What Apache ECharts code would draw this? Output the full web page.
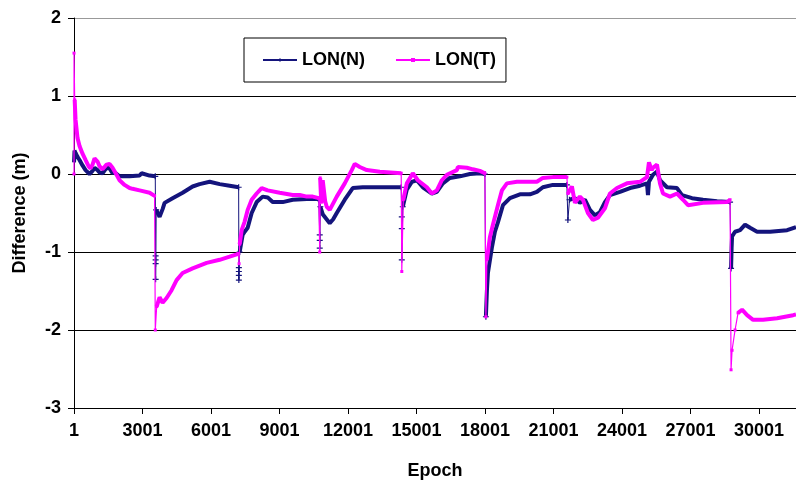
<!DOCTYPE html>
<html>
<head>
<meta charset="utf-8">
<title>LON difference by epoch</title>
<script src="https://cdn.jsdelivr.net/npm/echarts@6/dist/echarts.min.js"></script>
<style>
  html, body { margin: 0; padding: 0; background: #ffffff; }
  #chart { width: 796px; height: 485px; }
</style>
</head>
<body>
<div id="chart"></div>
<script>
// Longitude difference (m) per epoch. Each trace is a list of [epoch, value];
// null marks a break between solution segments.
const nTrace = [
  [1,0.15],[23,0.30],[67,0.27],[154,0.22],[242,0.18],[374,0.11],[505,0.05],[680,0.00],[812,0.04],[900,0.08],
  [1031,0.05],[1118,0.02],[1250,0.01],[1425,0.08],[1557,0.07],[1688,0.01],[1776,0.02],[1995,-0.03],[2434,-0.03],
  [2872,-0.02],[2960,0.01],[3004,-0.01],[3310,-0.02],[3560,-0.03], null,
  [3600,-0.46],[3661,-0.44],[3748,-0.55],[3880,-0.45],[3968,-0.37],[4318,-0.31],[4757,-0.24],[5195,-0.16],
  [5500,-0.13],[5940,-0.10],[6379,-0.13],[6817,-0.15],[7211,-0.17], null,
  [7255,-1.00],[7343,-0.85],[7386,-0.78],[7474,-0.74],[7606,-0.69],[7781,-0.50],[8000,-0.36],[8263,-0.29],
  [8482,-0.30],[8701,-0.36],[9140,-0.36],[9578,-0.33],[10192,-0.32],[10630,-0.32],[10720,-0.33], null,
  [10790,-0.42],[10900,-0.52],[11200,-0.63],[11350,-0.58],[11507,-0.50],[11858,-0.33],[12208,-0.18],
  [12646,-0.17],[13260,-0.17],[14330,-0.17], null,
  [14400,-0.42],[14575,-0.20],[14795,-0.10],[15014,-0.08],[15277,-0.17],[15672,-0.25],[15891,-0.23],
  [16154,-0.12],[16461,-0.05],[16899,-0.03],[17337,0.00],[17776,0.01],[17995,0.00], null,
  [18039,-1.83],[18083,-1.50],[18127,-1.27],[18302,-0.94],[18434,-0.74],[18565,-0.62],[18785,-0.40],
  [19092,-0.31],[19530,-0.26],[19969,-0.26],[20271,-0.23],[20534,-0.17],[20972,-0.14],[21586,-0.14], null,
  [21700,-0.33],[21937,-0.31],[22156,-0.37],[22376,-0.33],[22595,-0.46],[22814,-0.53],[23033,-0.49],
  [23252,-0.36],[23472,-0.27],[23910,-0.23],[24349,-0.18],[24787,-0.15],[25094,-0.12],[25137,-0.27],
  [25180,-0.10],[25356,-0.01],[25532,0.03],[25663,-0.08],[25970,-0.17],[26409,-0.18],[26628,-0.27],
  [27066,-0.31],[27548,-0.33],[28162,-0.35],[28732,-0.36], null,
  [28776,-1.21],[28800,-0.95],[28820,-0.80],[28951,-0.74],[29171,-0.72],[29390,-0.65],[29609,-0.69],
  [29916,-0.74],[30486,-0.74],[31231,-0.72],[31620,-0.68]
];

// Jumps at re-initialisation, drawn as thin lines with the recorded epochs marked.
const nJumps = [
  [3560,-0.03],[3575,-1.05],[3575,-1.10],[3575,-1.15],[3575,-1.35],[3600,-0.46], null,
  [7211,-0.17],[7220,-1.20],[7220,-1.25],[7220,-1.30],[7220,-1.36],[7255,-1.00], null,
  [10720,-0.33],[10762,-0.78],[10762,-0.85],[10762,-0.95],[10790,-0.42], null,
  [14330,-0.17],[14356,-0.55],[14356,-0.70],[14356,-1.10],[14400,-0.42], null,
  [17995,0.00],[18039,-1.83], null,
  [21586,-0.14],[21630,-0.59],[21700,-0.33], null,
  [28732,-0.36],[28776,-1.21]
];

const tTrace = [
  [30,0.95],[67,0.70],[110,0.58],[154,0.46],[242,0.36],[374,0.26],[505,0.18],[637,0.10],[720,0.07],[812,0.12],
  [900,0.20],[943,0.21],[1031,0.16],[1118,0.10],[1250,0.06],[1337,0.08],[1425,0.12],[1557,0.13],[1688,0.08],
  [1864,-0.01],[1995,-0.08],[2214,-0.14],[2434,-0.18],[2565,-0.19],[2872,-0.21],[3310,-0.24],[3529,-0.28], null,
  [3620,-1.70],[3661,-1.68],[3748,-1.58],[3880,-1.65],[4055,-1.59],[4274,-1.49],[4494,-1.36],[4757,-1.27],
  [5195,-1.21],[5809,-1.14],[6379,-1.10],[6817,-1.06],[7124,-1.03],[7211,-1.02], null,
  [7255,-0.90],[7343,-0.72],[7474,-0.61],[7606,-0.46],[7781,-0.33],[8000,-0.25],[8219,-0.18],[8482,-0.21],
  [9008,-0.24],[9578,-0.27],[9885,-0.27],[10192,-0.29],[10455,-0.29],[10720,-0.31], null,
  [10780,-0.05],[10830,-0.38],[10893,-0.08],[11000,-0.35],[11069,-0.42],[11200,-0.46],[11507,-0.29],
  [11858,-0.12],[12164,0.05],[12296,0.13],[12515,0.09],[12822,0.05],[13392,0.03],[14330,0.01], null,
  [14420,-0.33],[14575,-0.12],[14839,0.01],[15058,-0.08],[15453,-0.17],[15672,-0.25],[15891,-0.21],
  [16110,-0.08],[16329,-0.01],[16768,0.05],[16811,0.09],[17206,0.08],[17469,0.06],[17776,0.04],[17995,0.01], null,
  [18083,-1.10],[18214,-0.81],[18346,-0.65],[18565,-0.40],[18741,-0.21],[18960,-0.12],[19399,-0.10],
  [20271,-0.10],[20534,-0.05],[20972,-0.04],[21586,-0.04], null,
  [21630,-0.25],[21806,-0.16],[21937,-0.37],[22156,-0.29],[22288,-0.33],[22507,-0.50],[22726,-0.59],
  [22946,-0.56],[23252,-0.44],[23472,-0.25],[23779,-0.18],[24217,-0.12],[24787,-0.10],[25094,-0.04],
  [25181,0.15],[25300,0.05],[25356,0.08],[25532,0.12],[25663,-0.12],[25795,-0.25],[26102,-0.29],
  [26409,-0.25],[26672,-0.33],[26891,-0.40],[27548,-0.37],[28600,-0.36],[28732,-0.33], null,
  [29083,-1.78],[29258,-1.74],[29478,-1.81],[29741,-1.87],[30179,-1.87],[30793,-1.85],[31494,-1.81],[31620,-1.80]
];

const tJumps = [
  [1,0.00],[1,1.55],[30,0.95], null,
  [3529,-0.28],[3560,-2.00],[3620,-1.70], null,
  [7211,-1.02],[7230,-1.15],[7255,-0.90], null,
  [10720,-0.31],[10762,-1.00],[10780,-0.05], null,
  [14330,0.01],[14356,-1.25],[14420,-0.33], null,
  [17995,0.01],[18039,-1.83],[18083,-1.10], null,
  [21586,-0.04],[21630,-0.25], null,
  [28732,-0.33],[28776,-2.51],[28820,-2.26],[28951,-2.00],[29083,-1.78]
];

const seriesNames = ['LON(N)', 'LON(T)'];
const yTicks = [-3, -2, -1, 0, 1, 2];

const NAVY = '#14147c';
const MAGENTA = '#ff00ff';
const FONT = '"Liberation Sans", Arial, sans-serif';
const PLUS = 'path://M2,0H3V2H5V3H3V5H2V3H0V2H2Z';

// null entries become gaps in the drawn line
const toData = pts => pts.map(p => (p === null ? [null, null] : p));

const chart = echarts.init(document.getElementById('chart'), null, { renderer: 'canvas' });

chart.setOption({
  animation: false,
  backgroundColor: '#ffffff',
  textStyle: { fontFamily: FONT },
  grid: { left: 74, right: 0, top: 18, bottom: 77, containLabel: false },
  legend: {
    data: seriesNames,
    left: 244,
    top: 38,
    orient: 'horizontal',
    padding: [13, 10, 13, 18],
    borderColor: '#000',
    borderWidth: 1,
    backgroundColor: '#fff',
    itemWidth: 34,
    itemHeight: 5,
    itemGap: 30,
    lineStyle: { width: 2 },
    textStyle: { fontFamily: FONT, fontWeight: 'bold', fontSize: 18, color: '#000' }
  },
  xAxis: {
    type: 'value',
    min: 0,
    max: 31620,
    interval: 3000,
    name: 'Epoch',
    nameLocation: 'middle',
    nameGap: 54,
    nameTextStyle: { fontFamily: FONT, fontWeight: 'bold', fontSize: 18, color: '#000' },
    axisLine: { show: true, onZero: false, lineStyle: { color: '#000', width: 1 } },
    axisTick: { show: true, inside: false, length: 6, lineStyle: { color: '#000' } },
    axisLabel: {
      margin: 14,
      showMaxLabel: false,
      fontFamily: FONT, fontWeight: 'bold', fontSize: 18, color: '#000',
      formatter: v => String(v + 1)
    },
    splitLine: { show: false }
  },
  yAxis: {
    type: 'value',
    min: yTicks[0],
    max: yTicks[yTicks.length - 1],
    interval: 1,
    name: 'Difference (m)',
    nameLocation: 'middle',
    nameGap: 45,
    nameTextStyle: { fontFamily: FONT, fontWeight: 'bold', fontSize: 18, color: '#000' },
    axisLine: { show: true, onZero: false, lineStyle: { color: '#000', width: 1 } },
    axisTick: { show: true, inside: false, length: 6, lineStyle: { color: '#000' } },
    axisLabel: {
      margin: 13,
      fontFamily: FONT, fontWeight: 'bold', fontSize: 18, color: '#000',
      formatter: v => String(v)
    },
    splitLine: { show: true, lineStyle: { color: ['#000', '#000', '#000', '#000', '#000', '#999'], width: 1 } }
  },
  series: [
    {
      name: seriesNames[0], type: 'line', data: toData(nJumps),
      symbol: PLUS, symbolSize: 6, showSymbol: true, connectNulls: false,
      lineStyle: { color: NAVY, width: 1 }, itemStyle: { color: NAVY },
      silent: true, z: 2
    },
    {
      name: seriesNames[0], type: 'line', data: toData(nTrace),
      symbol: 'none', connectNulls: false,
      lineStyle: { color: NAVY, width: 4 }, itemStyle: { color: NAVY },
      silent: true, z: 3
    },
    {
      name: seriesNames[1], type: 'line', data: toData(tJumps),
      symbol: 'rect', symbolSize: 3, showSymbol: true, connectNulls: false,
      lineStyle: { color: MAGENTA, width: 1.2 }, itemStyle: { color: MAGENTA },
      silent: true, z: 4
    },
    {
      name: seriesNames[1], type: 'line', data: toData(tTrace),
      symbol: 'none', connectNulls: false,
      lineStyle: { color: MAGENTA, width: 4 }, itemStyle: { color: MAGENTA },
      silent: true, z: 5
    }
  ]
});
</script>
</body>
</html>
